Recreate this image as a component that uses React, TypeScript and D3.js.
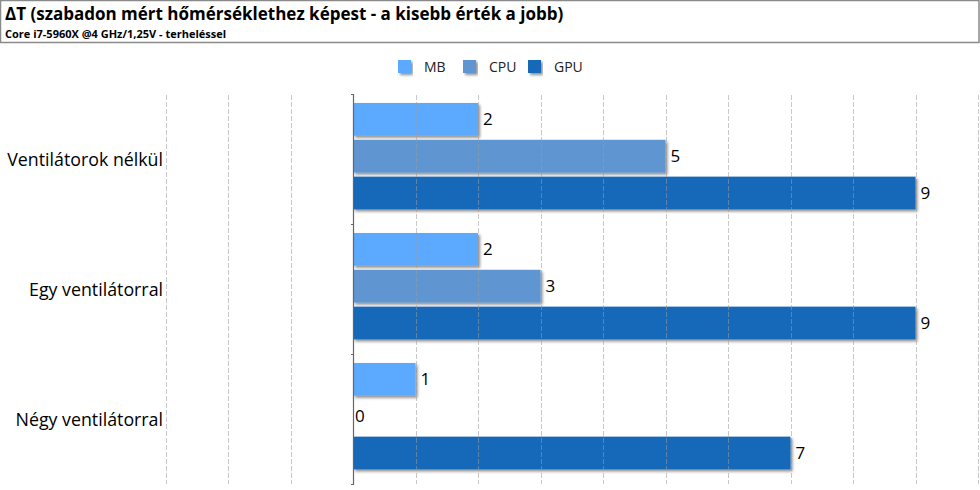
import React from "react";
import * as d3 from "d3";

const categories = ["Ventilátorok nélkül", "Egy ventilátorral", "Négy ventilátorral"];
const seriesNames = ["MB", "CPU", "GPU"];
const mbValues = [2, 2, 1];
const cpuValues = [5, 3, 0];
const gpuValues = [9, 9, 7];
const gridTicks = [-3, -2, -1, 0, 1, 2, 3, 4, 5, 6, 7, 8, 9, 10];
const colors = ["#5CAAFF", "#5E96D2", "#1868B9"];
const titleText = "ΔT (szabadon mért hőmérséklethez képest - a kisebb érték a jobb)";
const subtitleText = "Core i7-5960X @4 GHz/1,25V - terheléssel";

const W = 980;
const H = 490;
const FONT = "'Open Sans', 'Noto Sans', sans-serif";

export default function App() {
  const x = d3.scaleLinear().domain([-3, 10]).range([165.5, 978]);
  const y = d3.scaleBand<string>().domain(categories).range([94.5, 484.5]);
  const inner = d3
    .scaleBand<string>()
    .domain(seriesNames)
    .range([0, y.bandwidth()])
    .paddingInner(0.11)
    .paddingOuter(0.32)
    .align(0.36);
  const seriesValues = [mbValues, cpuValues, gpuValues];
  const x0 = x(0);

  return (
    <div style={{ position: "absolute", left: 0, top: 0 }}>
      <svg width={W} height={H} style={{ display: "block", background: "#fff" }}>
        <defs>
          <filter id="sh" x="-5%" y="-20%" width="115%" height="160%">
            <feGaussianBlur in="SourceAlpha" stdDeviation="1.5" />
            <feOffset dx="2" dy="2" result="b" />
            <feComponentTransfer>
              <feFuncA type="linear" slope="0.45" />
            </feComponentTransfer>
            <feMerge>
              <feMergeNode />
              <feMergeNode in="SourceGraphic" />
            </feMerge>
          </filter>
        </defs>
        {/* title box */}
        <rect x={0.5} y={0.5} width={978.5} height={42} fill="#fff" stroke="#8a8a8a" strokeWidth={1.5} />
        <text x={5} y={20} fontFamily={FONT} fontWeight="bold" fontSize={17} fill="#000">
          {titleText}
        </text>
        <text x={5} y={37.5} fontFamily={FONT} fontWeight="bold" fontSize={11} fill="#000">
          {subtitleText}
        </text>
        {/* legend */}
        {seriesNames.map((s, i) => {
          const lx = [398, 463, 528][i];
          return (
            <g key={s}>
              <rect x={lx} y={60} width={13} height={13} fill={colors[i]} filter="url(#sh)" />
              <text x={lx + 26} y={71.5} fontFamily={FONT} fontSize={14} fill="#222">
                {s}
              </text>
            </g>
          );
        })}
        {/* bars */}
        {categories.map((c, ci) => (
          <g key={c} transform={`translate(0,${y(c)})`}>
            {seriesNames.map((s, si) => {
              const v = seriesValues[si][ci];
              const by = inner(s)!;
              const bw = x(v) - x0;
              return (
                <g key={s}>
                  {v > 0 && (
                    <rect x={x0} y={by} width={bw} height={inner.bandwidth()} fill={colors[si]} filter="url(#sh)" />
                  )}
                  <text
                    x={x(v) + (v === 0 ? 2 : 5)}
                    y={by + inner.bandwidth() / 2 + 6}
                    fontFamily={FONT}
                    fontSize={17}
                    fill="#000"
                  >
                    {v}
                  </text>
                </g>
              );
            })}
          </g>
        ))}
        {/* grid */}
        {gridTicks
          .filter((t) => t !== 0)
          .map((t) => (
            <line
              key={t}
              x1={Math.round(x(t)) + 0.5}
              x2={Math.round(x(t)) + 0.5}
              y1={95}
              y2={484}
              stroke="#9a9a9a"
              strokeOpacity={0.55}
              strokeDasharray="5,2"
            />
          ))}
        {/* axis */}
        <line x1={Math.round(x0) + 0.5} x2={Math.round(x0) + 0.5} y1={94} y2={485} stroke="#666" strokeWidth={1.2} />
        {[94.5, 224.5, 354.5, 484.5].map((ty) => (
          <line key={ty} x1={x0 - 2} x2={x0 + 1} y1={ty} y2={ty} stroke="#666" />
        ))}
        {/* category labels */}
        {categories.map((c) => (
          <text
            key={c}
            x={163}
            y={y(c)! + y.bandwidth() / 2 + 6}
            textAnchor="end"
            fontFamily={FONT}
            fontSize={17.8}
            fill="#000"
          >
            {c}
          </text>
        ))}
      </svg>
    </div>
  );
}
